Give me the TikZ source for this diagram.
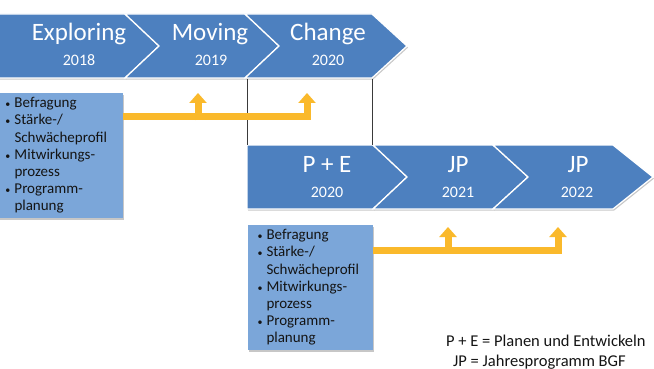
\documentclass[tikz,border=0pt]{standalone}
\usepackage{fontspec}
\setmainfont{Carlito}
\usetikzlibrary{arrows.meta,shadows}
\definecolor{chev}{HTML}{4D80BF}
\definecolor{boxb}{HTML}{7BA6D9}
\definecolor{gold}{HTML}{FAB92B}
\definecolor{guidec}{HTML}{3A3A3A}
\definecolor{txt}{HTML}{141414}
\tikzset{
 softshadow/.style={drop shadow={shadow xshift=1pt, shadow yshift=-1.6pt, opacity=0.22, fill=black}},
 chevron/.style={fill=chev, draw=white, line width=1.3pt, line join=miter, softshadow},
 title/.style={text=white, font=\fontsize{25}{28}\selectfont, inner sep=0pt, anchor=base},
 year/.style={text=white, font=\fontsize{16}{18}\selectfont, inner sep=0pt, anchor=base},
 infobox/.style={fill=boxb, text=txt, minimum height=125pt, inner xsep=9pt, inner ysep=0pt,
   align=left, font=\fontsize{15}{17.2}\selectfont, softshadow},
 goldline/.style={draw=gold, line width=7pt, line join=miter, -{Triangle[width=17pt,length=10pt]}},
 guide/.style={draw=guidec, line width=0.7pt, dash pattern=on 1.2pt off 0.8pt},
 legend/.style={text=txt, font=\fontsize{16.5}{19}\selectfont, anchor=base west, inner sep=0pt}
}
\newcommand{\bul}{\makebox[9.5pt][l]{\hspace*{0.5pt}{\fontsize{10}{10}\selectfont •}}}
\newcommand{\ind}{\hspace*{9.5pt}}
\begin{document}
\begin{tikzpicture}[x=1pt,y=-1pt]
\useasboundingbox (0,0) rectangle (654,369);
% row 1 chevrons
\filldraw[chevron] (-5,14) -- (125,14) -- (159,46) -- (125,78) -- (-5,78) -- cycle;
\filldraw[chevron] (125,14) -- (245,14) -- (279,46) -- (245,78) -- (125,78) -- (159,46) -- cycle;
\filldraw[chevron] (245,14) -- (372,14) -- (407,46) -- (372,78) -- (245,78) -- (279,46) -- cycle;
\node[title] (t1) at (79,41) {Exploring};
\node[year]  (y1) at (79,66) {2018};
\node[title] (t2) at (210,41) {Moving};
\node[year]  (y2) at (211,66) {2019};
\node[title] (t3) at (328,41) {Change};
\node[year]  (y3) at (328,66) {2020};
% row 2 chevrons
\filldraw[chevron] (247,145) -- (373,145) -- (407,177) -- (373,209) -- (247,209) -- cycle;
\filldraw[chevron] (373,145) -- (493,145) -- (528,177) -- (493,209) -- (373,209) -- (407,177) -- cycle;
\filldraw[chevron] (493,145) -- (613,145) -- (653,177) -- (613,209) -- (493,209) -- (528,177) -- cycle;
\node[title] (t4) at (327,172) {P + E};
\node[year]  (y4) at (327,197) {2020};
\node[title] (t5) at (458,172) {JP};
\node[year]  (y5) at (458,197) {2021};
\node[title] (t6) at (578,172) {JP};
\node[year]  (y6) at (577,197) {2022};
% guide lines
\coordinate (g1a) at (247,79.5); \coordinate (g1b) at (247,145);
\coordinate (g2a) at (372,79.5); \coordinate (g2b) at (372,145);
\draw[guide] (g1a) -- (g1b);
\draw[guide] (g2a) -- (g2b);
% boxes
\node[infobox, minimum width=127pt, text width=109pt] (box1) at (59.5,155.5) {%
\bul Befragung\\
\bul Stärke-/\\
\ind Schwächeprofil\\
\bul Mitwirkungs-\\
\ind prozess\\
\bul Programm-\\
\ind planung};
\node[infobox, minimum width=125pt, text width=107pt] (box2) at (310.5,287.5) {%
\bul Befragung\\
\bul Stärke-/\\
\ind Schwächeprofil\\
\bul Mitwirkungs-\\
\ind prozess\\
\bul Programm-\\
\ind planung};
% gold arrows
\coordinate (a1) at (198,93);
\coordinate (a2) at (307,93);
\coordinate (h1) at (0,117);
\draw[goldline] (box1.east |- h1) -| (a2);
\draw[goldline] (a1 |- 0,120.5) -- (a1);
\coordinate (b1) at (448,227);
\coordinate (b2) at (558,227);
\coordinate (h2) at (0,250);
\draw[goldline] (box2.east |- h2) -| (b2);
\draw[goldline] (b1 |- 0,253.5) -- (b1);
% legend
\node[legend] (l1) at (446,346) {P + E = Planen und Entwickeln};
\node[legend] (l2) at (453,366) {JP = Jahresprogramm BGF};
\end{tikzpicture}
\end{document}
